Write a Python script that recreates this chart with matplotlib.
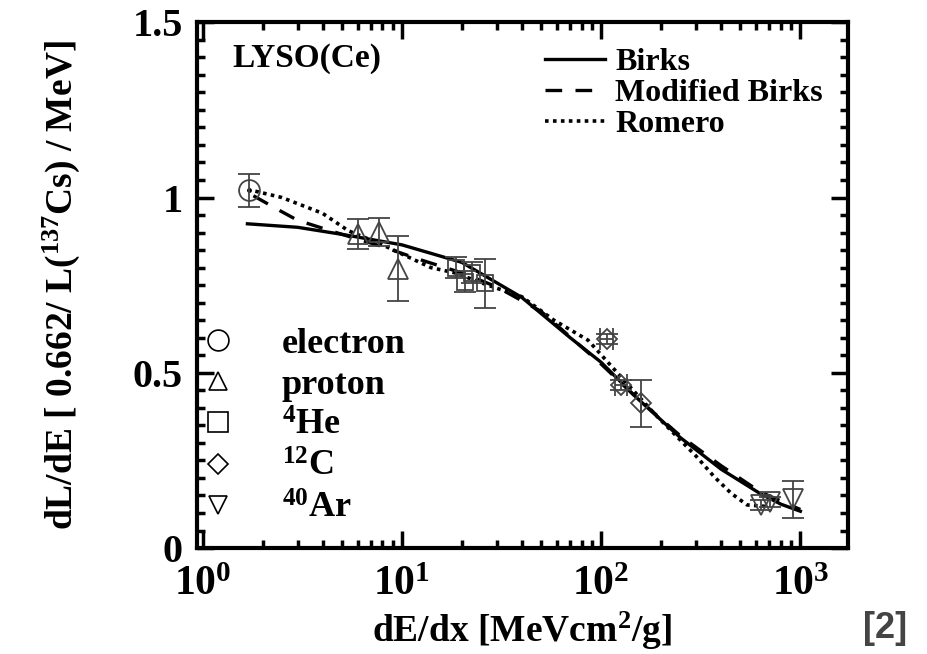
import numpy as np
import matplotlib
matplotlib.use("Agg")
import matplotlib.pyplot as plt
from matplotlib.lines import Line2D
from matplotlib.ticker import MultipleLocator, LogLocator, NullFormatter

plt.rcParams['font.family'] = ['Liberation Serif', 'DejaVu Serif']
plt.rcParams['font.weight'] = 'bold'
plt.rcParams['axes.labelweight'] = 'bold'
plt.rcParams['mathtext.fontset'] = 'custom'
plt.rcParams['mathtext.rm'] = 'Liberation Serif:bold'
plt.rcParams['mathtext.it'] = 'Liberation Serif:bold'
plt.rcParams['mathtext.bf'] = 'Liberation Serif:bold'
plt.rcParams['mathtext.default'] = 'rm'

################################################################################
# measured light yield per particle
e_x   = [1.71]
e_y   = [1.02]
e_err = [0.046]

p_x   = [6.0, 7.67, 9.62]
p_y   = [0.897, 0.902, 0.797]
p_err = [0.043, 0.040, 0.093]

he_x   = [18.8, 20.7, 22.5, 26.3]
he_y   = [0.80, 0.76, 0.785, 0.755]
he_err = [0.03, 0.03, 0.03, 0.07]

c_x   = [106.8, 125.9, 158.5]
c_y   = [0.596, 0.465, 0.413]
c_err = [0.015, 0.015, 0.067]
c_xerr = [8.0, 9.0, 0.0]

ar_x   = [631, 708, 919]
ar_y   = [0.123, 0.132, 0.139]
ar_err = [0.015, 0.015, 0.052]

################################################################################
# model curves
birks_x = [1.68, 3, 5, 10, 20, 40, 70, 100, 150, 250, 400, 630, 800, 1000]
birks_y = [0.925, 0.915, 0.895, 0.865, 0.815, 0.715, 0.60, 0.53, 0.43, 0.315,
           0.225, 0.155, 0.125, 0.105]

mbirks_x = [1.8, 2.4, 3, 5, 8, 12, 20, 30, 50, 100, 150, 250, 400, 630, 1000]
mbirks_y = [1.005, 0.965, 0.935, 0.895, 0.86, 0.825, 0.785, 0.745, 0.675, 0.525,
            0.43, 0.32, 0.235, 0.16, 0.11]

romero_x = [1.84, 2.5, 4, 5.4, 8, 10.8, 14, 18.5, 27, 40, 58, 86, 126, 184, 300,
            370, 450, 540, 700]
romero_y = [1.018, 1.0, 0.955, 0.905, 0.865, 0.83, 0.80, 0.785, 0.75, 0.717, 0.65,
            0.593, 0.488, 0.385, 0.262, 0.203, 0.156, 0.123, 0.118]

################################################################################
fig = plt.figure(figsize=(9.27, 6.54), dpi=100)
ax = fig.add_axes([0.212, 0.162, 0.703, 0.804])

l1, = ax.plot(birks_x, birks_y, 'k-', lw=2.4, label='Birks')
l2, = ax.plot(mbirks_x, mbirks_y, 'k--', lw=2.4, dashes=(5, 4), label='Modified Birks')
l3, = ax.plot(romero_x, romero_y, 'k:', lw=2.6, dashes=(1, 1.2), label='Romero')

ecol = '#444444'
kw = dict(ls='none', mfc='none', mec=ecol, mew=1.3, ecolor=ecol, elinewidth=1.3,
          capsize=8, capthick=1.3, zorder=3)
ax.errorbar(e_x, e_y, yerr=e_err, marker='o', ms=15, **kw)
ax.plot(e_x, e_y, 'k.', ms=5)
ax.errorbar(p_x, p_y, yerr=p_err, marker='^', ms=14, **kw)
ax.errorbar(he_x, he_y, yerr=he_err, marker='s', ms=12, **kw)
ax.errorbar(c_x, c_y, yerr=c_err, xerr=c_xerr, marker='D', ms=10, **kw)
ax.errorbar(ar_x, ar_y, yerr=ar_err, marker='v', ms=14, **kw)

ax.set_xscale('log')
ax.set_xlim(0.933, 1738)
ax.set_ylim(0, 1.5)
ax.yaxis.set_major_locator(MultipleLocator(0.5))
ax.yaxis.set_minor_locator(MultipleLocator(0.05))
ax.set_yticks([0, 0.5, 1, 1.5])
ax.set_yticklabels(['0', '0.5', '1', '1.5'])
ax.xaxis.set_major_locator(LogLocator(base=10, numticks=10))
ax.xaxis.set_minor_locator(LogLocator(base=10, subs=np.arange(2, 10), numticks=20))
ax.xaxis.set_minor_formatter(NullFormatter())

for s in ax.spines.values():
    s.set_linewidth(3)
ax.tick_params(which='both', direction='in', top=True, right=True, labelsize=29)
ax.tick_params(which='major', length=12, width=2.5, pad=10)
ax.tick_params(which='minor', length=6, width=2.5)
ax.tick_params(axis='x', which='major', pad=13)
for t in ax.get_xticklabels():
    t.set_fontsize(30)

ax.set_xlabel(r'dE/dx [MeVcm$^{2}$/g]', fontsize=27, va='center')
ax.xaxis.set_label_coords(0.5, -0.158)
ax.set_ylabel(r'dL/dE [ 0.662/ L($^{137}$Cs) / MeV]', fontsize=27, labelpad=36)

ax.text(0.055, 0.96, 'LYSO(Ce)', transform=ax.transAxes, fontsize=24,
        ha='left', va='top')

leg1 = ax.legend(handles=[l1, l2, l3], loc='upper right', frameon=False,
                 fontsize=23, handlelength=1.9, handletextpad=0.3,
                 labelspacing=0.05, borderaxespad=0.4,
                 bbox_to_anchor=(1.0, 1.0))
ax.add_artist(leg1)

mk = dict(ls='none', mfc='none', mec='k', mew=1.2)
handles = [Line2D([], [], marker='o', ms=15, **mk),
           Line2D([], [], marker='^', ms=13, **mk),
           Line2D([], [], marker='s', ms=14, **mk),
           Line2D([], [], marker='D', ms=10, **mk),
           Line2D([], [], marker='v', ms=13, **mk)]
labels = ['electron', 'proton', r'$^{4}$He', r'$^{12}$C', r'$^{40}$Ar']
ax.legend(handles=handles, labels=labels, loc='lower left', frameon=False,
          fontsize=26, handlelength=1.0, handletextpad=1.25, labelspacing=0.22,
          borderaxespad=0.3, bbox_to_anchor=(-0.033, -0.005))

fig.text(0.955, 0.012, '[2]', fontsize=26, fontweight='bold', color='#444444',
         family='Liberation Sans', ha='center', va='bottom')

fig.savefig('out.png', dpi=100)
